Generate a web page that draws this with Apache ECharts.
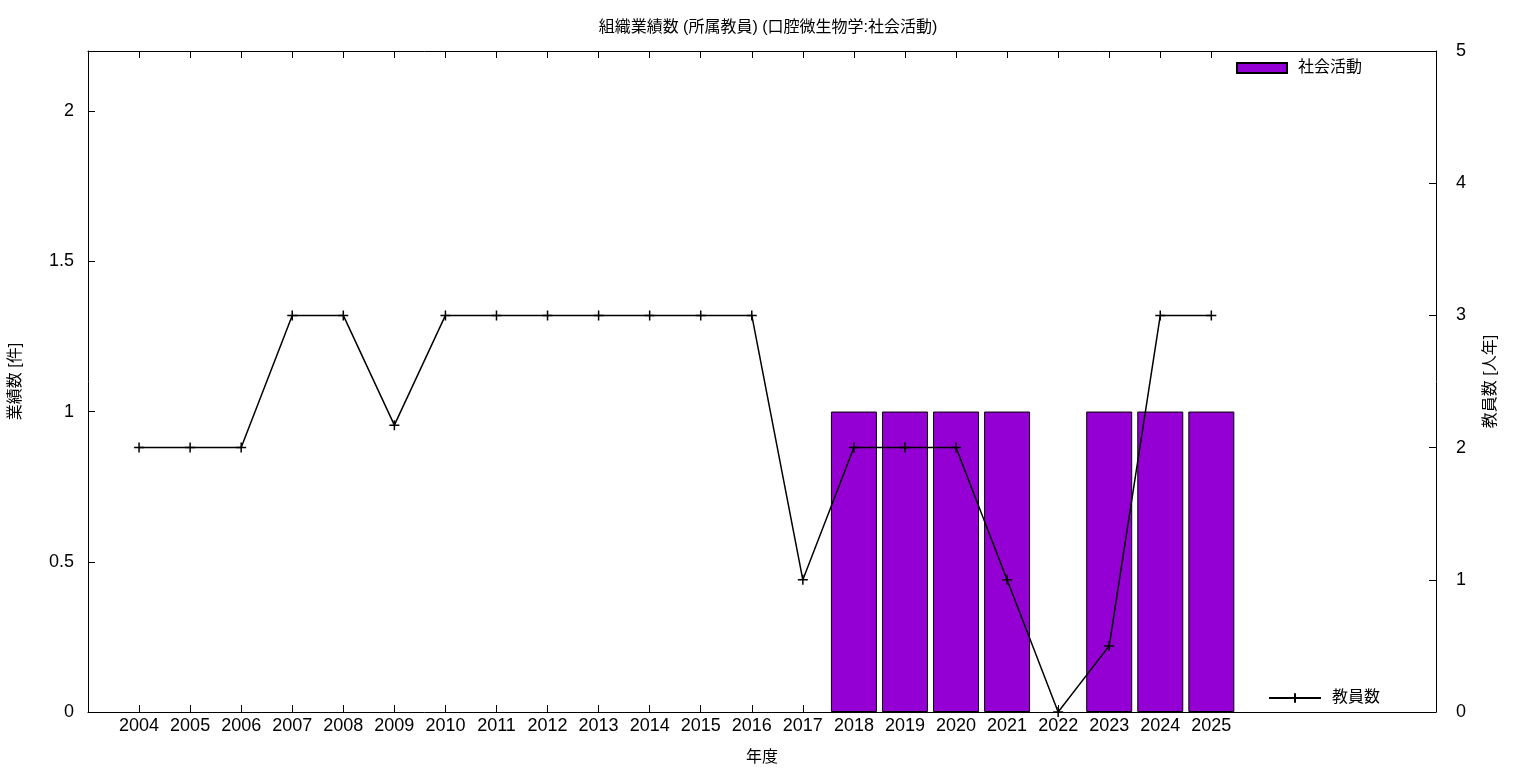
<!DOCTYPE html>
<html>
<head>
<meta charset="utf-8">
<script src="https://cdn.jsdelivr.net/npm/echarts@6/dist/echarts.min.js"></script>
<style>html,body{margin:0;padding:0;background:#fff}#c{width:1536px;height:768px}</style>
</head>
<body>
<div id="c"></div>
<script>
const years = [2004,2005,2006,2007,2008,2009,2010,2011,2012,2013,2014,2015,2016,2017,2018,2019,2020,2021,2022,2023,2024,2025];
const activities = [0,0,0,0,0,0,0,0,0,0,0,0,0,0,1,1,1,1,0,1,1,1];
const teachers = [2,2,2,3,3,2.17,3,3,3,3,3,3,3,1,2,2,2,1,0,0.5,3,3];
const leftTicks = [0,0.5,1,1.5,2];
const rightTicks = [0,1,2,3,4,5];
const titleText = '組織業績数 (所属教員) (口腔微生物学:社会活動)';
const barName = '社会活動';
const lineName = '教員数';

const FONT = '"Liberation Sans", "Noto Sans CJK JP", sans-serif';
const chart = echarts.init(document.getElementById('c'));
const plus = 'path://M0,5L10,5M5,0L5,10';
const lbl = {color:'#000', fontSize:18, fontFamily:FONT};

chart.setOption({
  animation:false,
  title:{text:titleText, left:'center', top:15, textStyle:{fontSize:16, fontWeight:'normal', color:'#000', fontFamily:FONT}},
  grid:{left:88, right:100, top:51, bottom:56, containLabel:false, outerBoundsMode:'none'},
  legend:[
    {data:[{name:barName, icon:'rect'}], right:169, top:55, itemWidth:50, itemHeight:10, itemGap:10,
     textStyle:{fontSize:16, color:'#000', fontFamily:FONT, padding:[0,0,0,6]}},
    {data:[{name:lineName}], right:151, top:685, itemWidth:52, itemHeight:12,
     textStyle:{fontSize:16, color:'#000', fontFamily:FONT, padding:[0,0,0,6]}}
  ],
  xAxis:[
    {type:'value', min:2003, max:2029.4, position:'bottom',
     name:'年度', nameLocation:'middle', nameGap:38, nameTextStyle:{fontSize:16, color:'#000', fontFamily:FONT},
     axisLine:{show:true, onZero:false, lineStyle:{color:'#000', width:1}},
     axisTick:{show:true, inside:true, length:7, lineStyle:{color:'#000'}, customValues:years},
     axisLabel:{show:true, margin:5, ...lbl, customValues:years, formatter:v=>String(v)},
     splitLine:{show:false}},
    {type:'value', min:2003, max:2029.4, position:'top',
     axisLine:{show:true, onZero:false, lineStyle:{color:'#000', width:1}},
     axisTick:{show:true, inside:true, length:7, lineStyle:{color:'#000'}, customValues:years},
     axisLabel:{show:false}, splitLine:{show:false}}
  ],
  yAxis:[
    {type:'value', min:0, max:2.2, position:'left',
     name:'業績数 [件]', nameLocation:'middle', nameRotate:90, nameGap:64,
     nameTextStyle:{fontSize:16, color:'#000', fontFamily:FONT},
     axisLine:{show:true, onZero:false, lineStyle:{color:'#000', width:1}},
     axisTick:{show:true, inside:true, length:7, lineStyle:{color:'#000'}, customValues:leftTicks},
     axisLabel:{show:true, margin:14, ...lbl, customValues:leftTicks, formatter:v=>String(v)},
     splitLine:{show:false}},
    {type:'value', min:0, max:5, interval:1, position:'right',
     name:'教員数 [人年]', nameLocation:'middle', nameRotate:90, nameGap:47,
     nameTextStyle:{fontSize:16, color:'#000', fontFamily:FONT},
     axisLine:{show:true, onZero:false, lineStyle:{color:'#000', width:1}},
     axisTick:{show:true, inside:true, length:7, lineStyle:{color:'#000'}, customValues:rightTicks},
     axisLabel:{show:true, margin:20, ...lbl, customValues:rightTicks, formatter:v=>String(v)},
     splitLine:{show:false}}
  ],
  series:[
    {name:barName, type:'bar', xAxisIndex:0, yAxisIndex:0, barWidth:46,
     itemStyle:{color:'#9400d3', borderColor:'#000', borderWidth:1},
     data:years.map((y,i)=>[y, activities[i] === 0 ? null : activities[i]]), z:2},
    {name:lineName, type:'line', xAxisIndex:0, yAxisIndex:1,
     symbol:plus, symbolSize:10, showSymbol:true,
     lineStyle:{color:'#000', width:1.5},
     itemStyle:{color:'#000', borderColor:'#000', borderWidth:1.5},
     data:years.map((y,i)=>[y, teachers[i]]), z:3}
  ]
});
</script>
</body>
</html>
